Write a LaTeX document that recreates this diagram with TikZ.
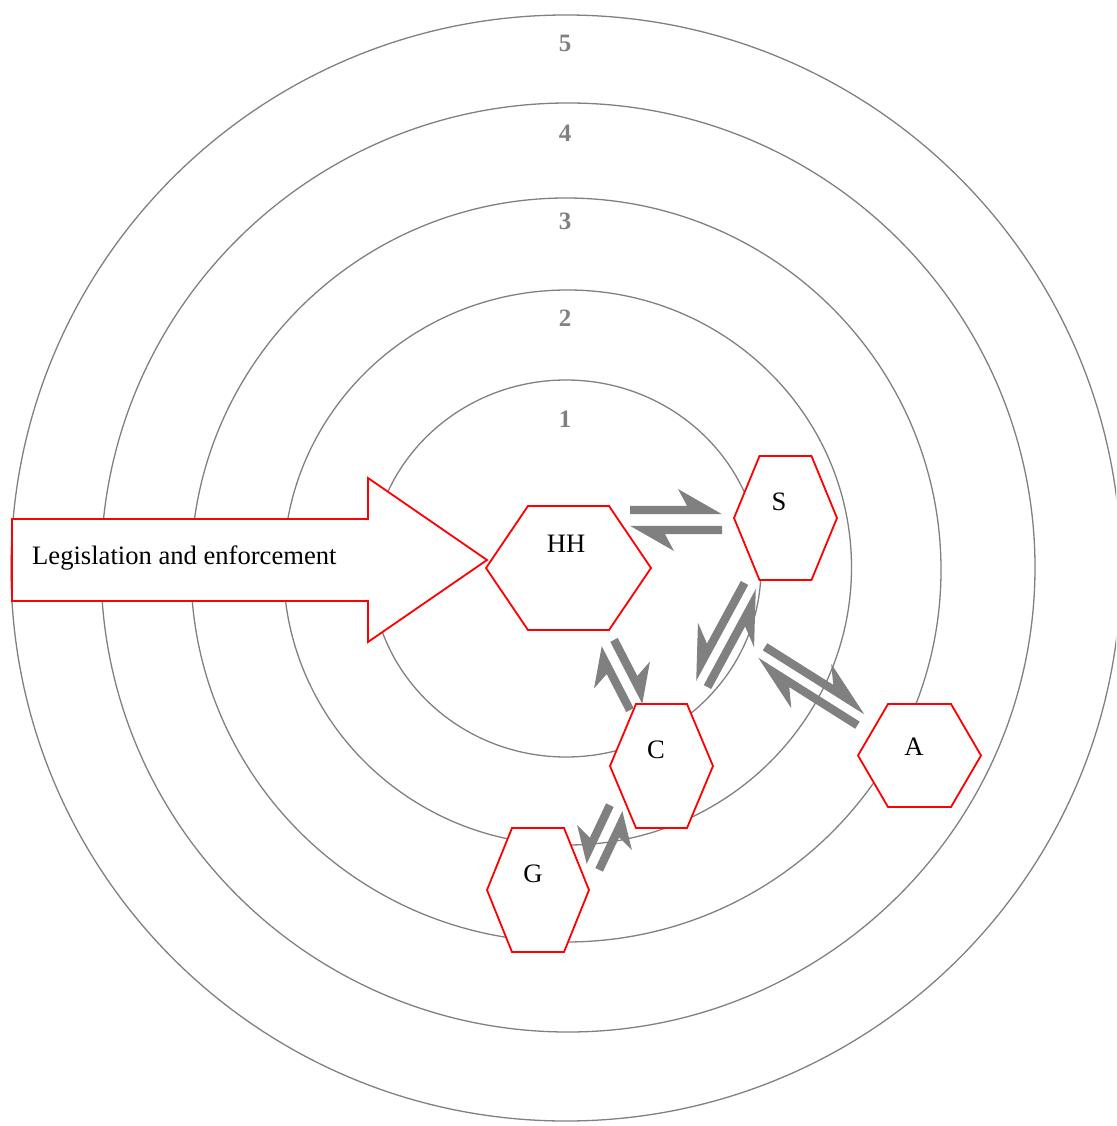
\documentclass[tikz,border=0pt]{standalone}
\usepackage{fontspec}
\setmainfont{Liberation Serif}
\usetikzlibrary{positioning}
\usetikzlibrary{calc}

\begin{document}
\begin{tikzpicture}[x=1pt, y=-1pt,
  ring/.style={draw=gray, line width=1.3pt},
  ringnum/.style={text=gray, font=\fontsize{25}{30}\selectfont\bfseries, inner sep=0pt},
  hexbox/.style={inner sep=0pt, outer sep=0pt},
  hexline/.style={draw=red, fill=white, line width=1.8pt},
  hexlabel/.style={font=\fontsize{26.6}{30}\selectfont, inner sep=0pt},
  bigarrow/.style={draw=red, fill=white, line width=1.8pt},
  eqarrow/.style={fill=gray}]

\useasboundingbox (0,0) rectangle (1116,1126);
\clip (0,0) rectangle (1116,1126);

% hexagon: name, centre, half width, half height, corner inset, label shift
\def\hexcell#1#2#3#4#5#6{%
  \node[hexbox, minimum width=2*#3, minimum height=2*#4] (#1) at (#2) {};
  \draw[hexline] (#1.west) -- ($(#1.north west)+(#5,0)$) -- ($(#1.north east)-(#5,0)$)
    -- (#1.east) -- ($(#1.south east)-(#5,0)$) -- ($(#1.south west)+(#5,0)$) -- cycle;
  \node[hexlabel] (#1-text) at ($(#1)+(#6)$) {#1};
}

% one harpoon: tail, head, barb side, barb length, barb width, notch
\def\eqharpoon#1#2#3#4#5#6{%
  \coordinate (notch) at ($(#2)!#6!(#1)$);
  \coordinate (barb) at ($(#2)!#4!(#1)$);
  \fill[eqarrow] ($(#1)!4.2pt!-#3:(#2)$) -- ($(#1)!4.2pt!#3:(#2)$) -- ($(notch)!4.2pt!#3:(#2)$)
    -- ($(barb)!#5!#3:(#2)$) -- ($(#2)!4.2pt!#3:(#1)$) -- cycle;
}

% pair of harpoons between two points: a, b, side, gap, barb length, barb width, notch
\def\eqpair#1#2#3#4#5#6#7{%
  \coordinate (p1) at ($(#1)!#4!#3:(#2)$);
  \coordinate (q1) at ($(#2)!#4!-#3:(#1)$);
  \eqharpoon{p1}{q1}{#3}{#5}{#6}{#7}
  \coordinate (p2) at ($(#2)!#4!#3:(#1)$);
  \coordinate (q2) at ($(#1)!#4!-#3:(#2)$);
  \eqharpoon{p2}{q2}{#3}{#5}{#6}{#7}
}

% rings
\foreach \cx/\cy/\rx/\ry/\num/\ny in {566/568.5/195/188.5/1/419, 567.5/567.5/284/277.5/2/318,
    566/570/375/372/3/221, 568/567.5/467/464.5/4/133, 566/568/555/553/5/43} {
  \draw[ring] (\cx,\cy) ellipse [x radius=\rx, y radius=\ry];
  \node[ringnum] (ring\num) at (565,\ny) {\num};
}

% legislation arrow
\draw[bigarrow] (12,519) -- (368,519) -- (368,478) -- (487,560) -- (368,642) -- (368,601) -- (12,601) -- cycle;
\node[hexlabel, anchor=base west] (legis) at (32,564) {Legislation and enforcement};

% actors
\hexcell{HH}{568.5,568}{82.5}{62}{42}{-2.5,-24}
\hexcell{S}{785.5,518}{51.5}{62}{25.5}{-6.5,-16}
\hexcell{C}{661.5,766}{51.5}{62}{26}{-5.5,-16}
\hexcell{A}{919.5,755.5}{61.5}{51.5}{30}{-5.5,-8.5}
\hexcell{G}{538,890}{51}{62}{25}{-5,-16}

% equilibrium arrows
\coordinate (hh-s-a) at (630,520);
\coordinate (hh-s-b) at (722,520);
\coordinate (s-c-a) at (752,587);
\coordinate (s-c-b) at (700,683);
\coordinate (hh-c-a) at (606,644);
\coordinate (hh-c-b) at (638,706);
\coordinate (s-a-a) at (760.5,654);
\coordinate (s-a-b) at (862,718);
\coordinate (c-g-a) at (618,809);
\coordinate (c-g-b) at (591,866);

\eqpair{hh-s-a}{hh-s-b}{90}{10pt}{44pt}{21pt}{35pt}
\eqpair{s-c-a}{s-c-b}{270}{8.5pt}{52pt}{22pt}{38pt}
\eqpair{hh-c-a}{hh-c-b}{90}{9pt}{34pt}{22pt}{27pt}
\eqpair{s-a-a}{s-a-b}{90}{8.5pt}{55pt}{21pt}{42pt}
\eqpair{c-g-a}{c-g-b}{270}{9pt}{31pt}{21pt}{25pt}

\end{tikzpicture}
\end{document}
